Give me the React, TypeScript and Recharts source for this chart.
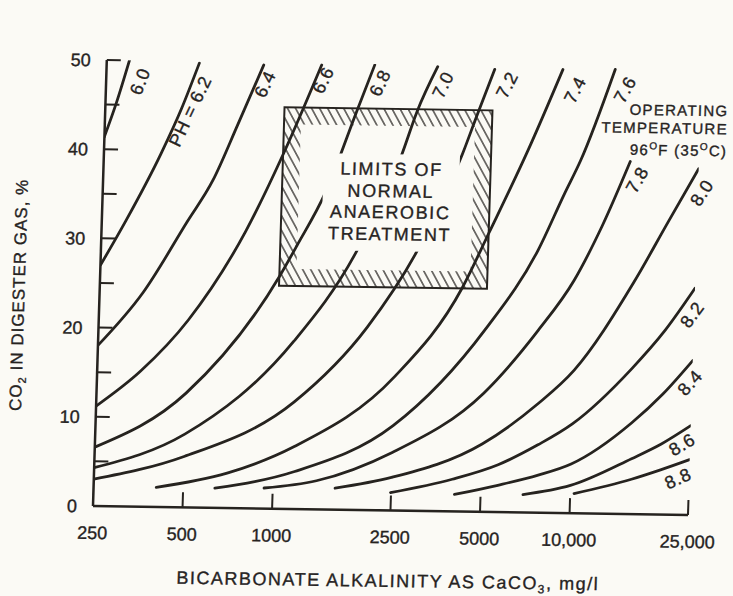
import React from "react";
import { LineChart, Line, XAxis, YAxis, ReferenceArea } from "recharts";

type Pt = [number, number];

// pH curves: [bicarbonate alkalinity mg/l, CO2 %]
const ph60: Pt[] = [[250, 41.4], [272, 45.2], [298, 50]];
const ph62: Pt[] = [[250, 27], [301, 32], [389, 39.6], [450, 44.6], [512, 49.8]];
const ph64: Pt[] = [[250, 18], [350, 24], [484, 32], [585, 36.7], [700, 43], [843, 49.7]];
const ph66: Pt[] = [[250, 11.2], [350, 15.2], [500, 21], [762, 31], [1006, 39.9], [1320, 49.8]];
const ph68: Pt[] = [[250, 6.6], [500, 12.8], [1000, 26], [1137, 29.5], [1400, 35.5], [1747, 44.6], [1990, 49.9]];
const ph70: Pt[] = [[250, 4.3], [500, 8.2], [1137, 18.8], [1784, 28.6], [2500, 39.8], [2788, 44.7], [3240, 49.8]];
const ph72: Pt[] = [[250, 3.0], [500, 5.7], [1157, 12], [2000, 20.5], [2916, 29.4], [4000, 40], [4440, 44.4], [5040, 49.6]];
const ph74: Pt[] = [[406, 2.2], [700, 3.9], [1170, 7], [2500, 15], [4135, 25.1], [5000, 31.2], [6650, 40.6], [8540, 49.7]];
const ph76: Pt[] = [[639, 2.2], [1180, 4.2], [2500, 9.5], [5000, 20.5], [7355, 29.4], [8910, 35.8], [10000, 39.5], [12800, 49.8]];
const ph78: Pt[] = [[935, 2.3], [1400, 3.2], [2500, 6.5], [5000, 13.3], [7497, 20.4], [9800, 26.1], [12000, 32.2], [14700, 39.5]];
const ph80: Pt[] = [[1620, 2.4], [2500, 3.7], [5000, 7.6], [7625, 12.2], [10000, 16], [15570, 26], [20000, 32.8], [25000, 38.8]];
const ph82: Pt[] = [[2490, 2.0], [4000, 3.6], [5685, 5.3], [7700, 7.6], [10000, 10], [15640, 16.3], [20000, 20.6], [25000, 25.4]];
const ph84: Pt[] = [[4085, 1.9], [5700, 3.0], [7770, 4.2], [10000, 5.5], [15800, 10.2], [20000, 13.5], [25000, 17.3]];
const ph86: Pt[] = [[6940, 2.0], [10000, 3.1], [15940, 6.2], [20000, 7.9], [25000, 10]];
const ph88: Pt[] = [[10300, 2.2], [16000, 3.9], [20000, 5.0], [25000, 6.2]];

const curves = [ph60, ph62, ph64, ph66, ph68, ph70, ph72, ph74, ph76, ph78, ph80, ph82, ph84, ph86, ph88];

const xTicks = [250, 500, 1000, 2500, 5000, 10000, 25000];
const xTickLabels = ["250", "500", "1000", "2500", "5000", "10,000", "25,000"];
const yTicks = [0, 5, 10, 15, 20, 25, 30, 35, 40, 45, 50];

// limits of normal anaerobic treatment
const limitsAlk = [1000, 5000];
const limitsCo2 = [25, 45];

const W = 733;
const H = 596;
const INK = "#26231f";
const PAPER = "#fbfaf5";
const FONT = "'Liberation Sans', Arial, Helvetica, sans-serif";
const BOLDEN = "0.35px " + INK;

// curve labels, placed next to the curve ends
const curveLabels = [
  { t: "6.0", x: 127, y: 81, a: -70 },
  { t: "PH = 6.2", x: 178, y: 110, a: -66 },
  { t: "6.4", x: 252, y: 82, a: -66 },
  { t: "6.6", x: 310, y: 77, a: -66 },
  { t: "6.8", x: 367, y: 79, a: -66 },
  { t: "7.0", x: 430, y: 80, a: -66 },
  { t: "7.2", x: 494, y: 79, a: -64 },
  { t: "7.4", x: 562, y: 83, a: -64 },
  { t: "7.6", x: 612, y: 82, a: -62 },
  { t: "7.8", x: 627, y: 172, a: -62 },
  { t: "8.0", x: 692, y: 184, a: -58 },
  { t: "8.2", x: 686, y: 306, a: -55 },
  { t: "8.4", x: 686, y: 374, a: -50 },
  { t: "8.6", x: 680, y: 436, a: -32 },
  { t: "8.8", x: 677, y: 470, a: -25 },
];

const YTick = (props: any) => {
  const { x, y, payload } = props;
  const v = payload.value;
  const ax = x + 16;
  return (
    <g>
      {v > 0 && <line x1={ax} x2={ax + 14} y1={y} y2={y} stroke={INK} strokeWidth={2} />}
      {v % 10 === 0 && (
        <text x={x} y={y + 6.5} textAnchor="end" fontSize={18} fill={INK} stroke={INK} strokeWidth={0.35} fontFamily={FONT}>
          {v}
        </text>
      )}
    </g>
  );
};

const XTick = (props: any) => {
  const { x, y, payload } = props;
  const i = xTicks.indexOf(payload.value);
  const ay = y - 20;
  return (
    <g>
      {i > 0 && <line x1={x} x2={x} y1={ay} y2={ay - 15} stroke={INK} strokeWidth={2} />}
      <text x={x} y={y + 13} textAnchor="middle" fontSize={18} fill={INK} stroke={INK} strokeWidth={0.35} fontFamily={FONT}>
        {xTickLabels[i]}
      </text>
    </g>
  );
};

export default function App() {
  return (
    <div
      style={{
        position: "absolute",
        left: 0,
        top: 0,
        width: W,
        height: H,
        background: PAPER,
        overflow: "hidden",
        fontFamily: FONT,
        color: INK,
        WebkitTextStroke: BOLDEN,
      }}
    >
      <svg width={0} height={0} style={{ position: "absolute" }}>
        <defs>
          <pattern id="hatch" width={7} height={7} patternUnits="userSpaceOnUse" patternTransform="rotate(-30)">
            <line x1={3.5} y1={-1} x2={3.5} y2={8} stroke={INK} strokeWidth={1.2} />
          </pattern>
        </defs>
      </svg>
      {/* the scan is slightly skewed, so the whole figure is too */}
      <div
        style={{
          position: "absolute",
          left: 0,
          top: 0,
          width: W,
          height: H,
          transformOrigin: "0 0",
          transform: "matrix(1, 0.015, -0.031, 1, 15.66, -1.43)",
        }}
      >
        <LineChart width={W} height={H} margin={{ top: 60, right: 45, bottom: 60, left: 33 }}>
          <XAxis
            dataKey="x"
            type="number"
            scale="log"
            domain={[250, 25000]}
            ticks={xTicks}
            interval={0}
            height={30}
            tickSize={0}
            tickMargin={20}
            tickLine={false}
            tick={<XTick />}
            axisLine={{ stroke: INK, strokeWidth: 2.5 }}
            allowDataOverflow
          />
          <YAxis
            type="number"
            domain={[0, 50]}
            ticks={yTicks}
            interval={0}
            width={60}
            tickSize={0}
            tickMargin={16}
            tickLine={false}
            tick={<YTick />}
            axisLine={{ stroke: INK, strokeWidth: 2.5 }}
            allowDataOverflow
          />
          <ReferenceArea
            x1={limitsAlk[0]}
            x2={limitsAlk[1]}
            y1={limitsCo2[0]}
            y2={limitsCo2[1]}
            fill="url(#hatch)"
            fillOpacity={1}
            stroke={INK}
            strokeWidth={2}
            ifOverflow="visible"
          />
          <ReferenceArea
            x1={limitsAlk[0] * 1.14}
            x2={limitsAlk[1] / 1.14}
            y1={limitsCo2[0] + 1.9}
            y2={limitsCo2[1] - 1.9}
            fill={PAPER}
            fillOpacity={1}
            stroke="none"
            ifOverflow="visible"
          />
          {curves.map((pts, i) => (
            <Line
              key={i}
              data={pts.map(([x, y]) => ({ x, y }))}
              dataKey="y"
              type="monotone"
              stroke={INK}
              strokeWidth={2.8}
              strokeLinecap="round"
              dot={false}
              activeDot={false}
              isAnimationActive={false}
            />
          ))}
        </LineChart>

        {curveLabels.map((l) => (
          <div
            key={l.t}
            style={{
              position: "absolute",
              left: l.x,
              top: l.y,
              transform: `translate(-50%, -50%) rotate(${l.a}deg)`,
              fontSize: 18,
              letterSpacing: 0.6,
              lineHeight: 1,
              whiteSpace: "nowrap",
            }}
          >
            {l.t}
          </div>
        ))}

        <div
          style={{
            position: "absolute",
            left: 313,
            top: 150,
            width: 136,
            height: 97,
            background: PAPER,
            textAlign: "center",
            fontSize: 18,
            letterSpacing: 1.6,
            lineHeight: "21.5px",
            paddingTop: 5,
            boxSizing: "border-box",
          }}
        >
          LIMITS OF
          <br />
          NORMAL
          <br />
          ANAEROBIC
          <br />
          TREATMENT
        </div>

        <div
          style={{
            position: "absolute",
            right: W - 716,
            top: 93,
            textAlign: "right",
            fontSize: 15,
            letterSpacing: 1.3,
            lineHeight: "18px",
            whiteSpace: "nowrap",
          }}
        >
          OPERATING
          <br />
          TEMPERATURE
          <br />
          96<sup style={{ fontSize: 10, verticalAlign: "6px" }}>O</sup>F (35
          <sup style={{ fontSize: 10, verticalAlign: "6px" }}>O</sup>C)
        </div>

        <div
          style={{
            position: "absolute",
            left: 390,
            top: 578,
            transform: "translate(-50%, -50%)",
            fontSize: 18,
            letterSpacing: 1.5,
            lineHeight: 1,
            whiteSpace: "nowrap",
          }}
        >
          BICARBONATE ALKALINITY AS CaCO
          <sub style={{ fontSize: 12, verticalAlign: "-4px" }}>3</sub>, mg/l
        </div>

        <div
          style={{
            position: "absolute",
            left: 14,
            top: 296,
            transform: "translate(-50%, -50%) rotate(-90deg)",
            fontSize: 17,
            letterSpacing: 1,
            lineHeight: 1,
            whiteSpace: "nowrap",
          }}
        >
          CO<sub style={{ fontSize: 11, verticalAlign: "-4px" }}>2</sub> IN DIGESTER GAS, %
        </div>
      </div>
    </div>
  );
}
